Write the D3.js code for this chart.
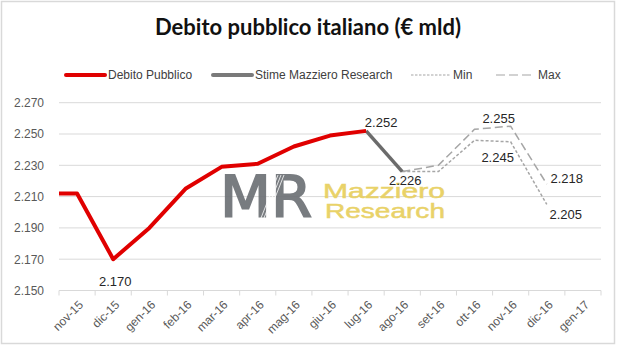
<!DOCTYPE html>
<html>
<head>
<meta charset="utf-8">
<script src="https://cdn.jsdelivr.net/npm/d3@7"></script>
<style>
  body { margin: 0; background: #fff; }
  text { font-family: "Liberation Sans", Arial, sans-serif; }
</style>
</head>
<body>
<div id="chart"></div>
<script>
// months on the x axis
var categories = ["nov-15", "dic-15", "gen-16", "feb-16", "mar-16", "apr-16", "mag-16",
                  "giu-16", "lug-16", "ago-16", "set-16", "ott-16", "nov-16", "dic-16", "gen-17"];
// month before the first one, only its tail is visible at the left edge
var prevMonth = "ott-15";
var prevValue = 2.212;

var debitoPubblico = [2.212, 2.170, 2.190, 2.215, 2.229, 2.231, 2.242, 2.249, 2.252];
var stimeMonths = ["lug-16", "ago-16"];
var stimeValues = [2.252, 2.226];
var rangeMonths = ["ago-16", "set-16", "ott-16", "nov-16", "dic-16"];
var minValues = [2.226, 2.226, 2.246, 2.245, 2.205];
var maxValues = [2.226, 2.230, 2.253, 2.255, 2.218];
var yTicks = [2.150, 2.170, 2.190, 2.210, 2.230, 2.250, 2.270];

var W = 620, H = 351;
var plotL = 59, plotR = 601, plotT = 102.7, plotB = 290.5;

var svg = d3.select("#chart").append("svg")
    .attr("width", W).attr("height", H);

// outer frame
svg.append("rect")
    .attr("x", 1.5).attr("y", 1.5).attr("width", 613).attr("height", 342)
    .attr("fill", "#fff").attr("stroke", "#d9d9d9").attr("stroke-width", 1.5);

svg.append("text")
    .attr("x", 308).attr("y", 35)
    .attr("text-anchor", "middle")
    .style("font-family", "Lato, sans-serif")
    .style("font-weight", "bold")
    .style("font-size", "22px")
    .attr("fill", "#111")
    .text("Debito pubblico italiano (€ mld)");

var x = d3.scaleBand().domain(categories).range([plotL, plotR]);
var y = d3.scaleLinear().domain([2.150, 2.270]).range([plotB, plotT]);
function cx(m) {
    if (m === prevMonth) return x(categories[0]) - x.step() + x.bandwidth() / 2;
    return x(m) + x.bandwidth() / 2;
}

// gridlines
svg.append("g").selectAll("line").data(yTicks.slice(1)).join("line")
    .attr("x1", plotL).attr("x2", plotR)
    .attr("y1", function(d) { return y(d); }).attr("y2", function(d) { return y(d); })
    .attr("stroke", "#d9d9d9").attr("stroke-width", 1);

// y axis labels
var yAxis = svg.append("g")
    .attr("transform", "translate(" + plotL + ",0)")
    .call(d3.axisLeft(y).tickValues(yTicks).tickSize(0).tickPadding(15)
        .tickFormat(d3.format(".3f")));
yAxis.select(".domain").remove();
yAxis.selectAll("text").style("font-size", "12px").attr("fill", "#595959")
    .style("font-family", "Liberation Sans, Arial, sans-serif");

// x axis with ticks at band edges
var xAxis = svg.append("g").attr("transform", "translate(0," + plotB + ")");
xAxis.append("line").attr("x1", plotL).attr("x2", plotR)
    .attr("stroke", "#d9d9d9").attr("stroke-width", 1);
xAxis.selectAll("line.tk").data(categories.concat(["end"])).join("line")
    .attr("class", "tk")
    .attr("x1", function(d, i) { return plotL + i * x.step(); })
    .attr("x2", function(d, i) { return plotL + i * x.step(); })
    .attr("y1", 0).attr("y2", 5)
    .attr("stroke", "#d9d9d9");
xAxis.selectAll("text").data(categories).join("text")
    .attr("transform", function(d) { return "translate(" + (cx(d) + 4) + ",12) rotate(-45)"; })
    .attr("text-anchor", "end")
    .attr("dy", "0.35em")
    .style("font-size", "12px")
    .attr("fill", "#595959")
    .text(function(d) { return d; });

// watermark
var wm = svg.append("g").attr("opacity", 0.92);
wm.append("text")
    .attr("x", 220).attr("y", 217)
    .attr("textLength", 92).attr("lengthAdjust", "spacingAndGlyphs")
    .style("font-family", "DejaVu Sans, sans-serif")
    .style("font-size", "57px")
    .attr("fill", "#6d7176").attr("stroke", "#6d7176").attr("stroke-width", 1.8)
    .text("MR");
wm.selectAll("line").data([0, 1, 2]).join("line")
    .attr("x1", function(d) { return 261 + d * 3; }).attr("y1", 218)
    .attr("x2", function(d) { return 278 + d * 3; }).attr("y2", 175)
    .attr("stroke", "#fff").attr("stroke-width", 0.8);
wm.append("text")
    .attr("x", 323).attr("y", 198)
    .attr("textLength", 122).attr("lengthAdjust", "spacingAndGlyphs")
    .style("font-family", "Liberation Sans, Arial, sans-serif")
    .style("font-size", "21px")
    .attr("fill", "#e8cf5c").attr("stroke", "#e8cf5c").attr("stroke-width", 0.5)
    .text("Mazziero");
wm.append("text")
    .attr("x", 325).attr("y", 218)
    .attr("textLength", 120).attr("lengthAdjust", "spacingAndGlyphs")
    .style("font-family", "Liberation Sans, Arial, sans-serif")
    .style("font-size", "21px")
    .attr("fill", "#e8cf5c").attr("stroke", "#e8cf5c").attr("stroke-width", 0.5)
    .text("Research");

svg.append("clipPath").attr("id", "plot")
    .append("rect").attr("x", plotL).attr("y", 0).attr("width", plotR - plotL).attr("height", H);

var line = d3.line().x(function(d) { return cx(d[0]); }).y(function(d) { return y(d[1]); });

var redPts = [[prevMonth, prevValue]].concat(debitoPubblico.map(function(v, i) { return [categories[i], v]; }));
var grayPts = stimeMonths.map(function(m, i) { return [m, stimeValues[i]]; });
var minPts = rangeMonths.map(function(m, i) { return [m, minValues[i]]; });
var maxPts = rangeMonths.map(function(m, i) { return [m, maxValues[i]]; });

var series = svg.append("g").attr("clip-path", "url(#plot)");
series.append("path").datum(maxPts).attr("d", line)
    .attr("fill", "none").attr("stroke", "#a6a6a6").attr("stroke-width", 1.5)
    .attr("stroke-dasharray", "8,4");
series.append("path").datum(minPts).attr("d", line)
    .attr("fill", "none").attr("stroke", "#a6a6a6").attr("stroke-width", 1.5)
    .attr("stroke-dasharray", "3,2");
series.append("path").datum(grayPts).attr("d", line)
    .attr("fill", "none").attr("stroke", "#6b6b6b").attr("stroke-width", 3.5)
    .attr("stroke-linejoin", "round");
series.append("path").datum(redPts).attr("d", line)
    .attr("fill", "none").attr("stroke", "#e00000").attr("stroke-width", 4)
    .attr("stroke-linejoin", "round");

// data labels: [month, value, dx, dy]
var labels = [
    ["dic-15", debitoPubblico[1], 2, 22],
    ["lug-16", debitoPubblico[8], 15, -8],
    ["ago-16", stimeValues[1], 3, 9],
    ["nov-16", maxValues[3], -12, -8],
    ["nov-16", minValues[3], -13, 16],
    ["dic-16", maxValues[4], 20, -6],
    ["dic-16", minValues[4], 19, 10]
];
svg.append("g").selectAll("text").data(labels).join("text")
    .attr("x", function(d) { return cx(d[0]) + d[2]; })
    .attr("y", function(d) { return y(d[1]) + d[3]; })
    .attr("text-anchor", "middle")
    .attr("dy", "0.35em")
    .style("font-size", "13px")
    .attr("fill", "#262626")
    .text(function(d) { return d3.format(".3f")(d[1]); });

// legend
var legend = [
    { name: "Debito Pubblico", color: "#e00000", width: 4, dash: null, x: 66 },
    { name: "Stime Mazziero Research", color: "#7a7a7a", width: 4, dash: null, x: 213 },
    { name: "Min", color: "#a6a6a6", width: 1.2, dash: "2.5,1.5", x: 411 },
    { name: "Max", color: "#a6a6a6", width: 1.2, dash: "9,4", x: 496 }
];
var lg = svg.append("g").selectAll("g").data(legend).join("g")
    .attr("transform", function(d) { return "translate(" + d.x + ",75)"; });
lg.append("line").attr("x1", 0).attr("x2", 39).attr("y1", 0).attr("y2", 0)
    .attr("stroke", function(d) { return d.color; })
    .attr("stroke-width", function(d) { return d.width; })
    .attr("stroke-linecap", function(d) { return d.dash ? "butt" : "round"; })
    .attr("stroke-dasharray", function(d) { return d.dash; });
lg.append("text").attr("x", 42).attr("dy", "0.35em")
    .style("font-size", "12px").attr("fill", "#404040")
    .text(function(d) { return d.name; });
</script>
</body>
</html>
